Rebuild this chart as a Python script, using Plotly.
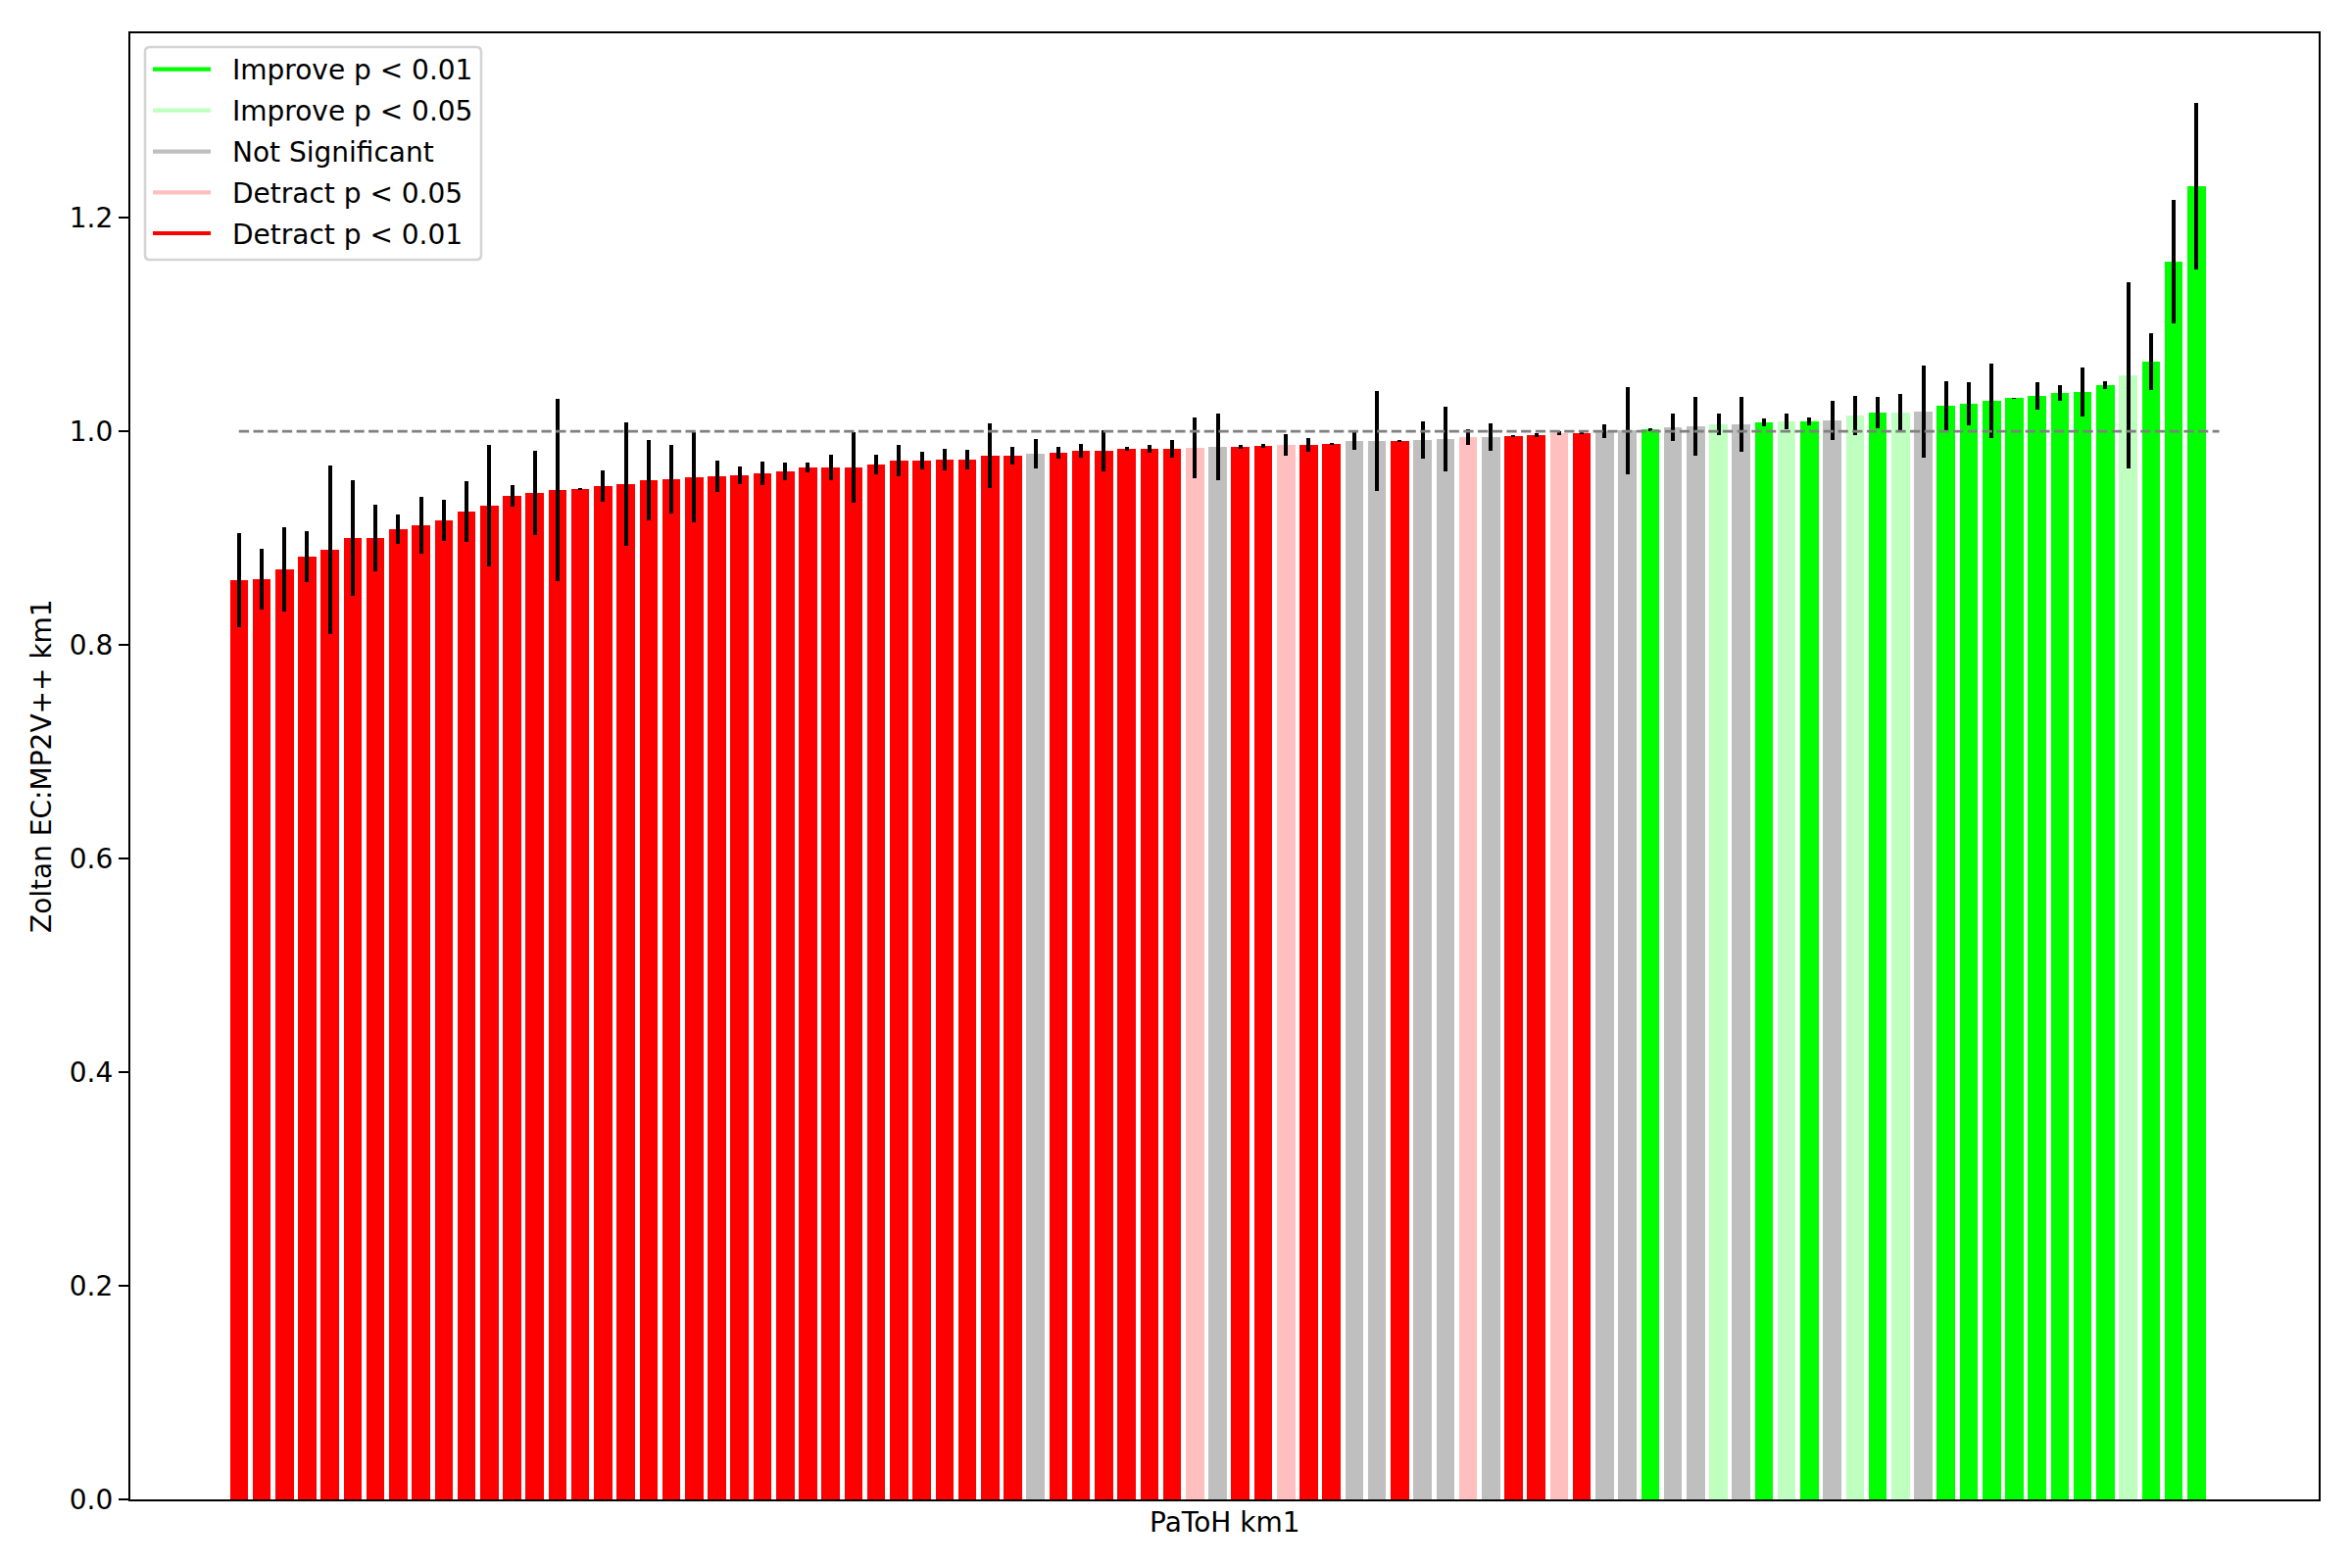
import plotly.graph_objects as go

# ---------------- data ----------------
values = [0.8606, 0.8615, 0.8706, 0.8826, 0.889, 0.900, 0.900, 0.9083, 0.9119, 0.9165,
          0.9248, 0.9303, 0.9394, 0.9422, 0.9450, 0.9459, 0.9486, 0.9505, 0.9541, 0.9550,
          0.9569, 0.9578, 0.9587, 0.9606, 0.9624, 0.9661, 0.9661, 0.9661, 0.9688, 0.9725,
          0.9725, 0.9734, 0.9734, 0.9771, 0.9771, 0.9789, 0.9798, 0.9817, 0.9817, 0.9835,
          0.9835, 0.9835, 0.9844, 0.9853, 0.9853, 0.9862, 0.9872, 0.9872, 0.9881, 0.9908,
          0.9908, 0.9908, 0.9917, 0.9927, 0.9945, 0.9945, 0.9954, 0.9963, 0.9982, 0.9982,
          1.0000, 1.0006, 1.0015, 1.0037, 1.0046, 1.0064, 1.0064, 1.0083, 1.0092, 1.0092,
          1.0101, 1.0147, 1.0174, 1.0174, 1.0183, 1.0239, 1.0257, 1.0284, 1.0312, 1.0330,
          1.0358, 1.0367, 1.0431, 1.0523, 1.0651, 1.1587, 1.2294]

errors = [0.044, 0.0287, 0.0398, 0.0237, 0.0787, 0.054, 0.0315, 0.0136, 0.0269, 0.0196,
          0.0283, 0.0567, 0.0099, 0.0393, 0.0852, 0.001, 0.0145, 0.0581, 0.0375, 0.032,
          0.0425, 0.0145, 0.0081, 0.0113, 0.0086, 0.0044, 0.0118, 0.0329, 0.0095, 0.0145,
          0.0081, 0.0104, 0.009, 0.0306, 0.0081, 0.0136, 0.0058, 0.0067, 0.0196, 0.0021,
          0.0035, 0.0081, 0.0287, 0.031, 0.0021, 0.0017, 0.0099, 0.0067, 0.0012, 0.0086,
          0.0471, 0.0006, 0.0177, 0.0301, 0.0076, 0.0131, 0.0008, 0.0017, 0.0017, 0.0012,
          0.0063, 0.0407, 0.001, 0.0131, 0.0278, 0.0104, 0.0255, 0.004, 0.0072, 0.004,
          0.0182, 0.0182, 0.015, 0.0177, 0.0434, 0.0228, 0.0205, 0.0347, 0.0005, 0.0127,
          0.0072, 0.0228, 0.0035, 0.0875, 0.0269, 0.0581, 0.0778]

categories = (["D1"] * 35 + ["NS"] + ["D1"] * 6 +
              ["D5", "NS", "D1", "D1", "D5", "D1", "D1", "NS", "NS", "D1", "NS", "NS",
               "D5", "NS", "D1", "D1", "D5", "D1", "NS", "NS", "I1", "NS", "NS", "I5",
               "NS", "I1", "I5", "I1", "NS", "I5", "I1", "I5", "NS"] +
              ["I1"] * 8 + ["I5"] + ["I1"] * 3)

legend_codes = ["I1", "I5", "NS", "D5", "D1"]
legend_labels = ["Improve p < 0.01", "Improve p < 0.05", "Not Significant",
                 "Detract p < 0.05", "Detract p < 0.01"]
palette = {"I1": "#00ff00", "I5": "#bfffbf", "NS": "#bfbfbf",
           "D5": "#ffbfbf", "D1": "#ff0000"}

baseline = 1.0
x_label = "PaToH km1"
y_label = "Zoltan EC:MP2V++ km1"

# ---------------- figure ----------------
W, H = 2400, 1600
ML, MR, MT, MB = 133, 34, 34, 70
PW, PH = W - ML - MR, H - MT - MB

def px(xp):  # pixel x -> paper
    return (xp - ML) / PW

def py(yp):  # pixel y -> paper
    return (H - MB - yp) / PH

n = len(values)
xs = list(range(n))
FONT = "DejaVu Sans, Liberation Sans, sans-serif"
FS = 28

fig = go.Figure()
fig.add_trace(go.Bar(
    x=xs, y=values, width=0.8,
    marker=dict(color=[palette[c] for c in categories], line=dict(width=0)),
    error_y=dict(type="data", array=errors, visible=True, color="black",
                 thickness=4, width=0),
    showlegend=False, hoverinfo="y",
))

# baseline dashed line from first bar to n
fig.add_trace(go.Scatter(
    x=[0, n], y=[baseline, baseline], mode="lines",
    line=dict(color="#808080", width=2.8, dash="10.3px,4.4px"),
    showlegend=False, hoverinfo="skip",
))

ymax = max(v + e for v, e in zip(values, errors)) * 1.05
xlo = -0.4 - 0.05 * (n + 0.4)
xhi = n + 0.05 * (n + 0.4)

# ---------------- legend (matplotlib style) ----------------
shapes = []
annotations = []
bx0, bx1, by0, by1 = px(148), px(491), py(265), py(48)
rx, ry = 5 / PW, 5 / PH
path = (f"M{bx0 + rx},{by1} L{bx1 - rx},{by1} Q{bx1},{by1} {bx1},{by1 - ry} "
        f"L{bx1},{by0 + ry} Q{bx1},{by0} {bx1 - rx},{by0} "
        f"L{bx0 + rx},{by0} Q{bx0},{by0} {bx0},{by0 + ry} "
        f"L{bx0},{by1 - ry} Q{bx0},{by1} {bx0 + rx},{by1} Z")
shapes.append(dict(type="path", xref="paper", yref="paper", path=path,
                   fillcolor="rgba(255,255,255,0.8)",
                   line=dict(color="#d4d4d4", width=2.6), layer="above"))
row_y = [70.7, 112.7, 154.7, 196.4, 238.0]
for code, lab, ry_px in zip(legend_codes, legend_labels, row_y):
    shapes.append(dict(type="line", xref="paper", yref="paper",
                       x0=px(156), x1=px(215), y0=py(ry_px), y1=py(ry_px),
                       line=dict(color=palette[code], width=4.2), layer="above"))
    annotations.append(dict(text=lab, xref="paper", yref="paper",
                            x=px(235), y=py(ry_px + 1), xanchor="left", yanchor="middle",
                            showarrow=False,
                            font=dict(family=FONT, size=FS, color="black")))

annotations += [
    dict(text=x_label, xref="paper", yref="paper", x=0.5, y=py(1553),
         xanchor="center", yanchor="middle", showarrow=False,
         font=dict(family=FONT, size=FS, color="black")),
    dict(text=y_label, xref="paper", yref="paper", x=px(42), y=0.5,
         xanchor="center", yanchor="middle", textangle=-90, showarrow=False,
         font=dict(family=FONT, size=FS, color="black")),
]

fig.update_layout(
    width=W, height=H,
    margin=dict(l=ML, r=MR, t=MT, b=MB),
    paper_bgcolor="white", plot_bgcolor="white",
    font=dict(family=FONT, size=FS, color="black"),
    bargap=0,
    showlegend=False,
    xaxis=dict(
        range=[xlo, xhi], showgrid=False, zeroline=False,
        showticklabels=False, ticks="",
        showline=True, mirror=True, linecolor="black", linewidth=2.2,
    ),
    yaxis=dict(
        range=[0, ymax], showgrid=False, zeroline=False,
        tickmode="array", tickvals=[0, 0.2, 0.4, 0.6, 0.8, 1.0, 1.2],
        tickformat=".1f", ticks="outside", ticklen=10, tickwidth=2.2,
        tickcolor="black",
        showline=True, mirror=True, linecolor="black", linewidth=2.2,
        tickfont=dict(family=FONT, size=FS, color="black"),
    ),
    shapes=shapes,
    annotations=annotations,
)

fig.write_html("out.html")
